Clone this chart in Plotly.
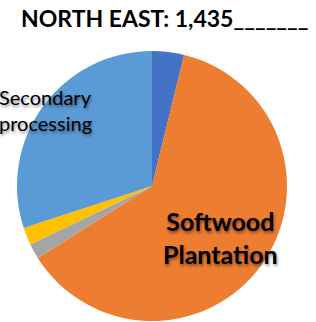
import plotly.graph_objects as go

categories = ["Hardwood", "Softwood Plantation", "Native forest", "Other", "Secondary processing"]
values = [55, 893, 26, 30, 431]
colors = ["#4472C4", "#ED7D31", "#A5A5A5", "#FFC000", "#5B9BD5"]
title_text = "NORTH EAST: 1,435_______"

W, H = 316, 322
cx, cy, r = 152, 186, 135

fig = go.Figure(go.Pie(
    labels=categories, values=values, sort=False, direction="clockwise", rotation=0,
    marker=dict(colors=colors, line=dict(width=0)), textinfo="none", hoverinfo="label+value",
    domain=dict(x=[(cx - r) / W, (cx + r) / W], y=[(H - cy - r) / H, (H - cy + r) / H]),
    showlegend=False,
))

shadow = "1px 2px 3px rgba(0,0,0,0.45)"
fig.add_annotation(x=19 / W, y=1 - 18 / H, xref="paper", yref="paper", xanchor="left", yanchor="middle",
                   text="<b>" + title_text + "</b>", showarrow=False,
                   font=dict(family="Lato", size=23, color="#000000"))
fig.add_annotation(x=-3 / W, y=1 - 110 / H, xref="paper", yref="paper", xanchor="left", yanchor="middle",
                   text="Secondary<br>processing", showarrow=False, align="left",
                   font=dict(family="Lato", size=20, color="#000000", shadow=shadow))
fig.add_annotation(x=221 / W, y=1 - 237 / H, xref="paper", yref="paper", xanchor="center", yanchor="middle",
                   text="<b>Softwood<br>Plantation</b>", showarrow=False, align="center",
                   font=dict(family="Lato", size=25, color="#000000", shadow=shadow))

fig.update_layout(width=W, height=H, margin=dict(l=0, r=0, t=0, b=0),
                  paper_bgcolor="white", plot_bgcolor="white")
fig.write_html("out.html", config={"displayModeBar": False},
               post_script="document.body.style.margin='0';document.body.style.overflow='hidden';")
